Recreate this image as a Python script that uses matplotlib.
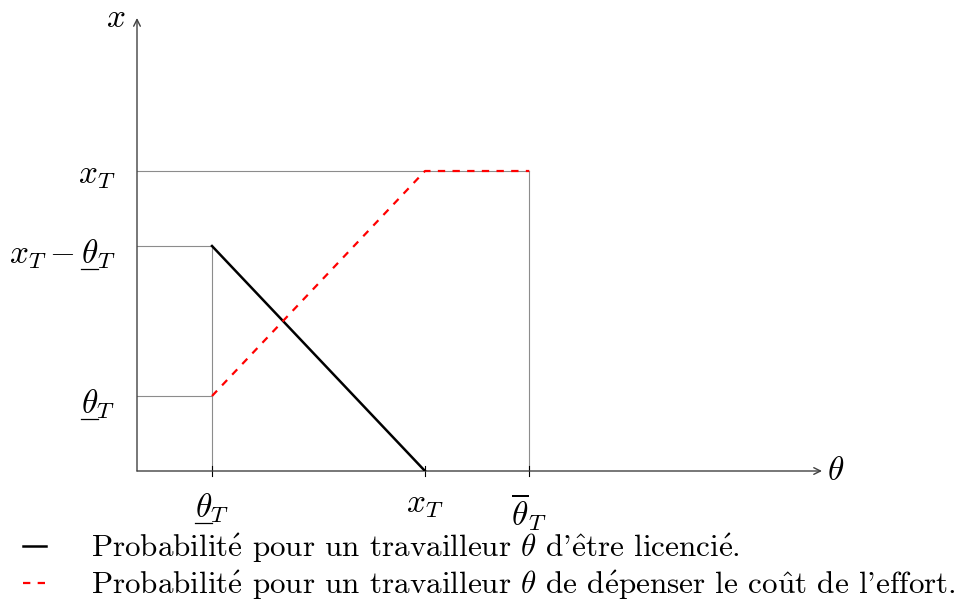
import numpy as np
import matplotlib.pyplot as plt
from matplotlib.lines import Line2D

plt.rcParams['mathtext.fontset'] = 'cm'
plt.rcParams['font.family'] = ['cmr10', 'DejaVu Serif']
plt.rcParams['axes.formatter.use_mathtext'] = True

# positions des repères (unités arbitraires du schéma)
x_ticks = [1.0, 3.84, 5.23]          # theta_T, x_T, theta_bar_T
x_tick_labels = [r'$\theta_T$', r'$x_T$', r'$\overline{\theta}_T$']
x_souligne = [True, False, False]
y_ticks = [1.0, 3.0, 4.0]            # theta_T, x_T - theta_T, x_T
y_tick_labels = [r'$\theta_T$', r'$x_T-\theta_T$', r'$x_T$']
y_souligne = [True, True, False]

# courbes
licencie_x = [1.0, 3.84]
licencie_y = [3.0, 0.0]
effort_x = [1.0, 3.84, 5.23]
effort_y = [1.0, 4.0, 4.0]

labels = [r"Probabilit$\acute{\rm e}$ pour un travailleur $\theta$ d'$\hat{\rm e}$tre licenci$\acute{\rm e}$.",
          r"Probabilit$\acute{\rm e}$ pour un travailleur $\theta$ de d$\acute{\rm e}$penser le co$\hat{\rm u}$t de l'effort."]

fig = plt.figure(figsize=(9.58, 6.04), dpi=100)
W, H = 958, 604
x0, y0, unit = 137, 471, 75.0
xmax, ymax = 700 / unit, 460 / unit
ax = fig.add_axes([x0 / W, (H - y0) / H, 700 / W, 460 / H])
ax.set_xlim(0, xmax)
ax.set_ylim(0, ymax)
ax.axis('off')

fs = 24
guide = dict(color='#8c8c8c', lw=0.8, zorder=1)
# lignes de repère
ax.plot([0, x_ticks[0]], [y_ticks[0]] * 2, **guide)
ax.plot([0, x_ticks[0]], [y_ticks[1]] * 2, **guide)
ax.plot([0, x_ticks[2]], [y_ticks[2]] * 2, **guide)
ax.plot([x_ticks[0]] * 2, [0, y_ticks[1]], **guide)
ax.plot([x_ticks[2]] * 2, [0, y_ticks[2]], **guide)

# axes avec flèches
arrow = dict(arrowstyle='->', color='#404040', lw=1.0, mutation_scale=12, shrinkA=0, shrinkB=0)
ax.annotate('', xy=(685 / unit, 0), xytext=(0, 0), arrowprops=arrow, annotation_clip=False)
ax.annotate('', xy=(0, 453 / unit), xytext=(0, 0), arrowprops=arrow, annotation_clip=False)
ax.text(690 / unit, 0, r'$\theta$', fontsize=fs, va='center', ha='left')
ax.text(-12 / unit, 453 / unit, r'$x$', fontsize=fs, va='center', ha='right')

# graduations
a_souligner = []
for xt, lab, s in zip(x_ticks, x_tick_labels, x_souligne):
    ax.plot([xt, xt], [-5 / unit, 5 / unit], color='black', lw=0.8, clip_on=False)
    t = ax.text(xt, -20 / unit, lab, fontsize=fs, ha='center', va='top')
    if s:
        a_souligner.append(t)
for yt, lab, s in zip(y_ticks, y_tick_labels, y_souligne):
    t = ax.text(-22 / unit, yt + 9 / unit, lab, fontsize=fs, ha='right', va='top')
    if s:
        a_souligner.append(t)

ax.plot(licencie_x, licencie_y, color='black', lw=1.8, label=labels[0], zorder=3)
ax.plot(effort_x, effort_y, color='red', lw=1.6, ls=(0, (3.3, 3.3)), label=labels[1], zorder=3)

fig.legend(loc='upper left', bbox_to_anchor=(0.024, 0.121), frameon=False, fontsize=22.4,
           handlelength=0.75, handletextpad=1.42, labelspacing=0.1, borderpad=0, borderaxespad=0)

# soulignement de theta (pas de \underline dans mathtext)
fig.canvas.draw()
r = fig.canvas.get_renderer()
tmp = fig.text(0, 0, r'$\theta$', fontsize=fs)
bth = tmp.get_window_extent(r)
tmp.set_text(r'$\theta_T$')
bthT = tmp.get_window_extent(r)
tmp.remove()
for t in a_souligner:
    bb = t.get_window_extent(r)
    xa = bb.x1 - bthT.width
    yb = bb.y1 - bth.height - 3
    fig.add_artist(Line2D([xa / W, (xa + bth.width) / W], [yb / H, yb / H],
                          transform=fig.transFigure, color='black', lw=0.9))

fig.savefig('out.png', dpi=100)
